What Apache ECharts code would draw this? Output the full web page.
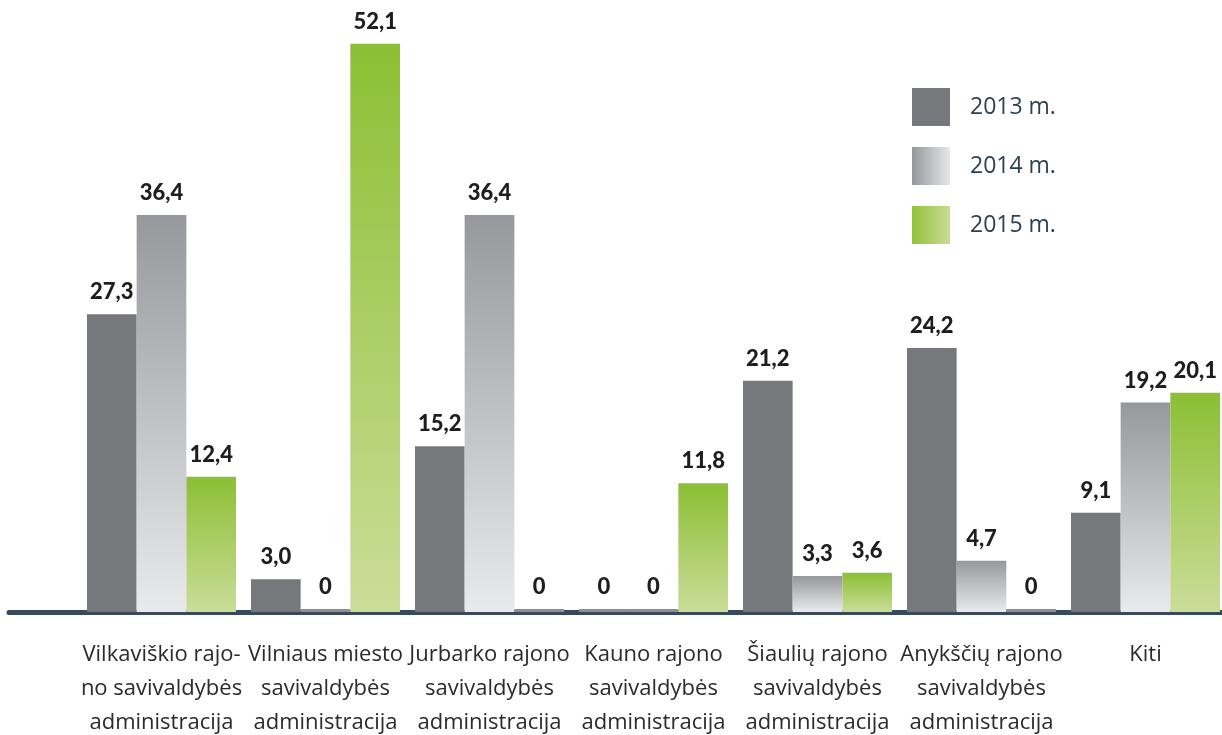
<!DOCTYPE html>
<html>
<head>
<meta charset="utf-8">
<script src="https://cdn.jsdelivr.net/npm/echarts@6/dist/echarts.min.js"></script>
<style>
  html, body { margin: 0; padding: 0; background: #fff; }
  #chart { width: 1222px; height: 735px; }
</style>
</head>
<body>
<div id="chart"></div>
<script>
var categories = [
  'Vilkaviškio rajo-\nno savivaldybės\nadministracija',
  'Vilniaus miesto\nsavivaldybės\nadministracija',
  'Jurbarko rajono\nsavivaldybės\nadministracija',
  'Kauno rajono\nsavivaldybės\nadministracija',
  'Šiaulių rajono\nsavivaldybės\nadministracija',
  'Anykščių rajono\nsavivaldybės\nadministracija',
  'Kiti'
];
var seriesNames = ['2013 m.', '2014 m.', '2015 m.'];
var values2013 = [27.3, 3.0, 15.2, 0, 21.2, 24.2, 9.1];
var values2014 = [36.4, 0, 36.4, 0, 3.3, 4.7, 19.2];
var values2015 = [12.4, 52.1, 0, 11.8, 3.6, 0, 20.1];

var chart = echarts.init(document.getElementById('chart'));

function vGrad(top, bottom) {
  return new echarts.graphic.LinearGradient(0, 0, 0, 1, [
    { offset: 0, color: top },
    { offset: 1, color: bottom }
  ]);
}
function hGrad(left, right) {
  return new echarts.graphic.LinearGradient(0, 0, 1, 0, [
    { offset: 0, color: left },
    { offset: 1, color: right }
  ]);
}

// zero bars are drawn as thin grey strips
function toData(arr) {
  return arr.map(function (v) {
    return v === 0 ? { value: 0, itemStyle: { color: '#8e8f93' } } : v;
  });
}

var colors = [
  '#77787c',
  vGrad('#97989b', '#e9eaeb'),
  vGrad('#8cbf34', '#cadd98')
];
var legendColors = [
  '#77787c',
  hGrad('#97989b', '#e6e7e8'),
  hGrad('#93c23b', '#c8dc95')
];

var labelStyle = {
  show: true,
  position: 'top',
  distance: 11,
  fontFamily: 'Lato',
  fontWeight: 900,
  fontSize: 22,
  color: '#1e1e1e',
  formatter: function (p) {
    return p.value === 0 ? '0' : p.value.toFixed(1).replace('.', ',');
  }
};

var allValues = [values2013, values2014, values2015];

var option = {
  animation: false,
  grid: [
    { left: 79.5, width: 1148, top: 12, bottom: 123, outerBoundsMode: 'none', containLabel: false },
    { left: 9, right: 0, top: 12, bottom: 123, outerBoundsMode: 'none', containLabel: false }
  ],
  legend: {
    orient: 'vertical',
    left: 907,
    top: 83,
    itemWidth: 38,
    itemHeight: 38,
    itemGap: 21,
    icon: 'rect',
    textStyle: {
      fontFamily: 'Open Sans',
      fontSize: 23,
      color: '#2f4050',
      padding: [0, 0, 0, 15]
    },
    data: seriesNames.map(function (n, i) {
      return { name: n, itemStyle: { color: legendColors[i] } };
    })
  },
  xAxis: [
    {
      type: 'category',
      gridIndex: 0,
      data: categories,
      axisLine: { show: false },
      axisTick: { show: false },
      axisLabel: {
        interval: 0,
        margin: 26,
        fontFamily: 'Open Sans',
        fontSize: 22,
        lineHeight: 34,
        color: '#2b2b2b'
      }
    },
    {
      type: 'value',
      gridIndex: 1,
      min: 0,
      max: 1,
      offset: 3,
      axisLine: { show: true, lineStyle: { color: '#37495a', width: 5 } },
      axisTick: { show: false },
      axisLabel: { show: false },
      splitLine: { show: false }
    }
  ],
  yAxis: [
    {
      type: 'value',
      gridIndex: 0,
      min: 0,
      max: 55,
      show: false
    },
    {
      type: 'value',
      gridIndex: 1,
      min: 0,
      max: 1,
      show: false
    }
  ],
  series: seriesNames.map(function (n, i) {
    return {
      name: n,
      type: 'bar',
      xAxisIndex: 0,
      yAxisIndex: 0,
      barGap: '0%',
      barCategoryGap: '9.1%',
      barMinHeight: 3,
      itemStyle: { color: colors[i] },
      label: labelStyle,
      data: toData(allValues[i])
    };
  })
};

chart.setOption(option);
</script>
</body>
</html>
